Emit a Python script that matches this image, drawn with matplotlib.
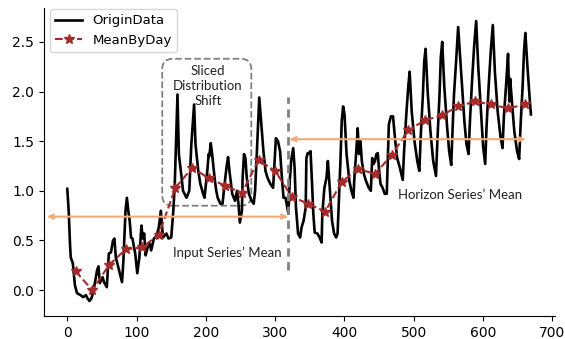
import numpy as np
import matplotlib
matplotlib.use('Agg')
import matplotlib.pyplot as plt
from matplotlib.patches import FancyBboxPatch

# hourly series, vertices (hour, value)
origin_x = [0, 2, 4, 5, 8, 11, 14, 19, 23, 27, 29, 32, 35, 38, 43, 45, 47, 51, 53, 57,
            60, 63, 66, 68, 70, 74, 79, 81, 84, 86, 88, 90, 92, 94, 98, 101, 104, 107, 109, 111,
            113, 116, 119, 121, 125, 129, 132, 135, 138, 143, 146, 150, 153, 155, 159, 161, 165, 167, 172, 176,
            179, 183, 185, 189, 192, 196, 198, 202, 204, 205, 207, 209, 213, 215, 217, 221, 224, 227, 230, 232,
            234, 238, 242, 245, 247, 249, 250, 252, 253, 255, 257, 259, 262, 266, 269, 271, 273, 277, 280, 283,
            286, 289, 293, 297, 301, 304, 307, 310, 312, 315, 317, 319, 321, 323, 326, 328, 330, 333, 336, 338,
            341, 344, 345, 347, 349, 351, 353, 355, 357, 361, 364, 367, 368, 371, 374, 376, 379, 382, 385, 388,
            390, 392, 394, 396, 398, 400, 403, 407, 410, 413, 414, 417, 419, 421, 423, 425, 428, 431, 435, 438,
            440, 442, 444, 446, 448, 450, 452, 455, 458, 461, 464, 467, 470, 473, 476, 480,
            484, 486, 489, 492, 494, 497, 501, 505,
            508, 510, 513, 515, 517, 520, 524, 528,
            532, 534, 537, 539, 541, 544, 548, 551,
            554, 556, 558, 561, 564, 569, 573, 576,
            579, 581, 584, 587, 590, 593, 597, 600,
            603, 605, 608, 611, 614, 617, 621, 625,
            628, 630, 633, 636, 637, 638, 639, 641, 645, 649,
            652, 654, 657, 659, 661, 664, 667, 669]
origin_y = [1.02, 0.80, 0.45, 0.33, 0.27, 0.05, -0.03, -0.05, -0.07, -0.05, -0.08, -0.11, -0.08, 0.00, 0.20, 0.24, 0.07, 0.13, 0.08, 0.03,
            0.37, 0.38, 0.50, 0.52, 0.33, 0.22, 0.08, 0.30, 0.80, 0.93, 0.80, 0.70, 0.53, 0.52, 0.37, 0.17, 0.33, 0.65, 0.52, 0.57,
            0.35, 0.43, 0.47, 0.40, 0.52, 0.55, 0.63, 0.80, 0.53, 0.57, 0.52, 0.53, 0.80, 1.05, 1.97, 1.37, 1.13, 1.00, 0.93, 1.00,
            1.47, 1.87, 1.47, 1.20, 1.07, 0.97, 0.93, 1.20, 1.37, 1.35, 1.48, 1.37, 1.10, 1.00, 0.93, 0.87, 0.87, 1.07, 1.25, 1.34,
            1.20, 0.97, 0.90, 1.00, 0.87, 0.68, 0.72, 0.80, 1.13, 1.37, 1.33, 1.13, 0.97, 0.90, 0.87, 1.00, 1.30, 1.94, 1.67, 1.40,
            1.20, 1.13, 1.07, 1.03, 1.53, 1.50, 1.40, 1.10, 0.93, 0.93, 0.85, 0.77, 1.10, 1.30, 1.43, 1.23, 0.83, 0.57, 0.53, 0.63,
            0.70, 0.83, 1.33, 1.38, 1.38, 1.40, 1.10, 0.77, 0.58, 0.57, 0.53, 0.48, 0.77, 1.03, 1.13, 1.30, 1.00, 0.70, 0.57, 0.53,
            0.57, 0.93, 1.27, 1.70, 1.85, 1.77, 1.37, 1.10, 1.00, 0.93, 1.10, 1.40, 1.63, 1.37, 1.50, 1.30, 1.17, 1.10, 1.03, 1.00,
            1.33, 1.27, 1.30, 1.37, 1.38, 1.20, 1.07, 1.03, 0.97, 0.97, 1.67, 1.75, 1.75, 1.52, 1.33, 1.23,
            1.11, 1.40, 1.75, 2.05, 2.20, 1.80, 1.50, 1.30,
            1.20, 1.55, 1.95, 2.30, 2.43, 2.00, 1.60, 1.30,
            1.15, 1.50, 1.95, 2.35, 2.50, 2.05, 1.65, 1.40,
            1.26, 1.63, 1.97, 2.30, 2.65, 2.13, 1.70, 1.47,
            1.37, 1.70, 2.10, 2.45, 2.71, 2.25, 1.80, 1.45,
            1.27, 1.65, 2.05, 2.40, 2.67, 2.20, 1.80, 1.55,
            1.43, 1.75, 2.05, 2.38, 2.10, 1.90, 2.13, 1.95, 1.60, 1.40,
            1.32, 1.65, 2.05, 2.40, 2.59, 2.25, 1.95, 1.77]

# daily means (28 days, plotted at mid-day)
mean_by_day = [0.19, 0.00, 0.25, 0.41, 0.43, 0.56, 1.03, 1.23, 1.13, 1.05, 0.98, 1.31, 1.20, 0.94,
               0.87, 0.79, 1.09, 1.22, 1.17, 1.36, 1.61, 1.71, 1.76, 1.85, 1.90, 1.87, 1.83, 1.87]
day_x = np.arange(len(mean_by_day)) * 24 + 12

input_mean = 0.74
horizon_mean = 1.52
split_hour = 318

fig = plt.figure(figsize=(5.65, 3.39), dpi=100)
ax = fig.add_axes([0.078, 0.068, 0.904, 0.908])

ax.plot(origin_x, origin_y, color='black', lw=1.9, label='OriginData')
ax.plot(day_x, mean_by_day, color='#a52a2a', lw=1.5, ls='--', marker='*', ms=7, label='MeanByDay')

orange = '#f4aa78'
ax.annotate('', xy=(-30, input_mean), xytext=(split_hour + 1, input_mean),
            arrowprops=dict(arrowstyle='<->,head_length=0.35,head_width=0.15', color=orange, lw=1.5,
                            shrinkA=0, shrinkB=0))
ax.annotate('', xy=(split_hour + 2, horizon_mean), xytext=(662, horizon_mean),
            arrowprops=dict(arrowstyle='<->,head_length=0.35,head_width=0.15', color=orange, lw=1.5,
                            shrinkA=0, shrinkB=0))

ax.plot([split_hour, split_hour], [0.2, 1.95], color='#808080', lw=2, ls=(0, (3, 2)))

box = FancyBboxPatch((137, 0.85), 128.5, 1.48,
                     boxstyle='round,pad=0,rounding_size=15',
                     mutation_aspect=0.0069, fill=False, ec='#808080', lw=1.3, ls='--')
ax.add_patch(box)

tf = dict(family='Lato', fontsize=9.5, color='#222222')
ax.text(203, 2.06, 'Sliced\nDistribution\nShift', ha='center', va='center', linespacing=1.3, **tf)
ax.text(231, 0.38, 'Input Series\u2019 Mean', ha='center', va='center', **tf)
ax.text(567, 0.96, 'Horizon Series\u2019 Mean', ha='center', va='center', **tf)

ax.set_xlim(-33.5, 703.5)
ax.set_ylim(-0.26, 2.84)
ax.set_xticks(range(0, 701, 100))
ax.set_yticks([0.0, 0.5, 1.0, 1.5, 2.0, 2.5])
ax.spines['top'].set_visible(False)
ax.spines['right'].set_visible(False)
ax.legend(loc='upper left', bbox_to_anchor=(0.0117, 0.997), fontsize=9.5, handlelength=2.0,
          borderaxespad=0)

fig.savefig('out.png', dpi=100)
